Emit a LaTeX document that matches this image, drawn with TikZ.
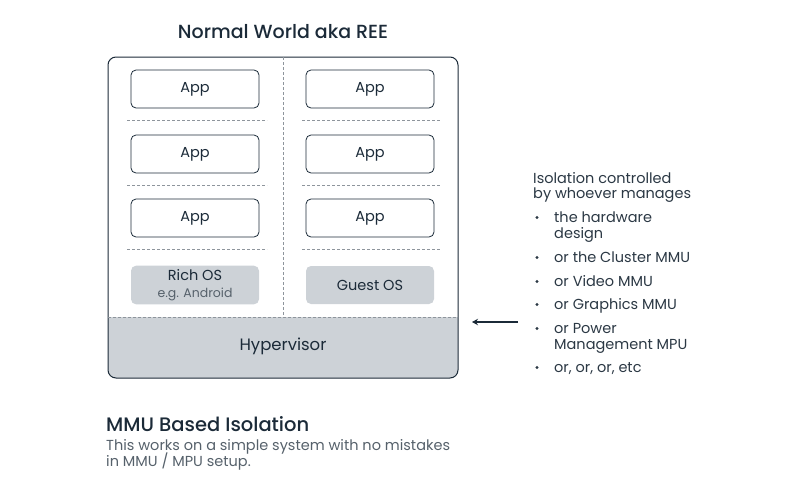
\documentclass[tikz,border=0pt]{standalone}
\usepackage{fontspec}
\setmainfont{Poppins}[BoldFont={Poppins Medium}]
\usetikzlibrary{arrows.meta}
\definecolor{ink}{HTML}{1B2A38}
\definecolor{listink}{HTML}{2B3844}
\definecolor{greytext}{HTML}{56616B}
\definecolor{osfill}{HTML}{CDD2D7}
\definecolor{dashgrey}{HTML}{8E959C}
\tikzset{
  appbox/.style={draw=ink, line width=0.8pt, rounded corners=5pt, minimum width=128pt, minimum height=38pt, font=\fontsize{14.5}{16}\selectfont, text=ink},
  osbox/.style={fill=osfill, rounded corners=5pt, minimum width=128pt, minimum height=38pt, text=ink},
  sep/.style={dashgrey, dash pattern=on 3pt off 2pt, line width=0.6pt},
  listtext/.style={anchor=base west, text=listink, font=\fontsize{14.5}{16}\selectfont, inner sep=0pt},
  bullet/.style={circle, fill=listink, inner sep=0pt, minimum size=3.4pt}
}
\begin{document}
\begin{tikzpicture}[x=1pt,y=-1pt]
    \useasboundingbox (0,0) rectangle (800,490);
    % title
    \node[text=ink, font=\fontsize{19}{21}\selectfont\bfseries] (title) at (283,32) {Normal World aka REE};
    % outer box with hypervisor at the bottom
    \begin{scope}
        \clip[rounded corners=8pt] (108,57) rectangle (458,378);
        \fill[osfill] (108,317) rectangle (458,378);
    \end{scope}
    \node[text=ink, font=\fontsize{16.5}{18}\selectfont] (hyp) at (283,346) {Hypervisor};
    \node[draw=ink, line width=1pt, rounded corners=8pt, minimum width=350pt, minimum height=321pt, inner sep=0pt] (ree) at (283,217.5) {};
    \draw[sep] (108,317) -- (458,317);
    \draw[sep] (283,57) -- (283,317);
    % apps
    \foreach \y [count=\i] in {89,154,218} {
        \node[appbox] (lapp\i) at (195,\y) {App};
        \node[appbox] (rapp\i) at (370,\y) {App};
        \draw[sep] (127,\y+31) -- (267,\y+31);
        \draw[sep] (302,\y+31) -- (440,\y+31);
    }
    % operating systems
    \node[osbox, align=center, font=\fontsize{14.5}{17.5}\selectfont] (richos) at (195,285) {Rich OS\\{\fontsize{12.5}{13}\selectfont\color{greytext}e.g. Android}};
    \node[osbox, font=\fontsize{14.5}{16}\selectfont] (guestos) at (370,285) {Guest OS};
    % isolation notes (y = baseline)
    \node[listtext] (note1) at (533,183) {Isolation controlled};
    \node[listtext] (note2) at (533,198) {by whoever manages};
    \foreach \y/\t [count=\i] in {222/the hardware, 238/design, 262/or the Cluster MMU, 286/or Video MMU, 309/or Graphics MMU, 333/or Power, 349/Management MPU, 372/{or, or, or, etc}}
        \node[listtext] (item\i) at (554,\y) {\t};
    \foreach \i in {1,3,4,5,6,8}
        \node[bullet] (dot\i) at ([yshift=4.5pt]537,0 |- item\i.base) {};
    \coordinate (arrowstart) at (518,322);
    \coordinate (arrowend) at (472,322);
    \draw[ink, line width=1.5pt, -{Stealth[length=6pt,width=6.5pt]}] (arrowstart) -- (arrowend);
    % caption
    \node[anchor=base west, text=ink, font=\fontsize{19.5}{21}\selectfont\bfseries, inner sep=0pt] (caption) at (106,431) {MMU Based Isolation};
    \node[anchor=base west, text=greytext, font=\fontsize{14.5}{16}\selectfont, inner sep=0pt] (capline1) at (106,450) {This works on a simple system with no mistakes};
    \node[anchor=base west, text=greytext, font=\fontsize{14.5}{16}\selectfont, inner sep=0pt] (capline2) at (106,466) {in MMU / MPU setup.};
\end{tikzpicture}
\end{document}
